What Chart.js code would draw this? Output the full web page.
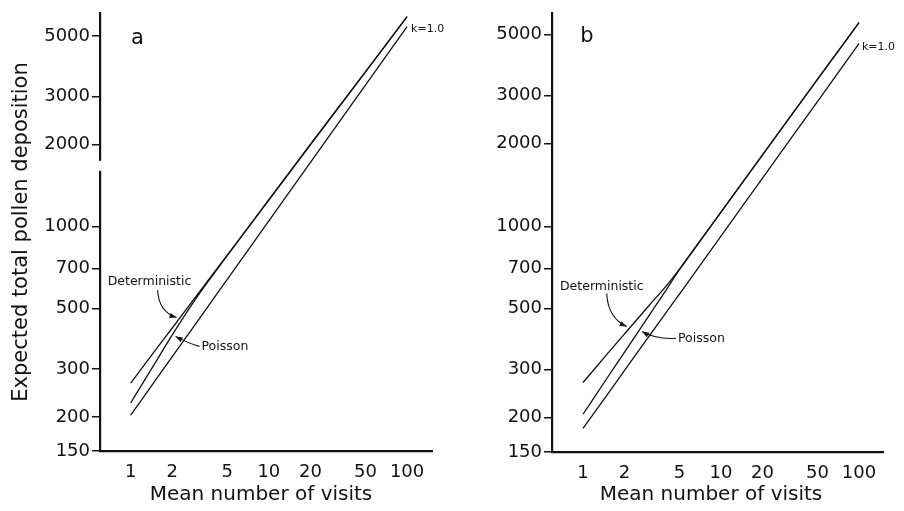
<!DOCTYPE html>
<html><head><meta charset="utf-8">
<script src="https://cdn.jsdelivr.net/npm/chart.js@4.4.1/dist/chart.umd.min.js"></script>
<style>
html,body{margin:0;padding:0;background:#fff;}
#wrapA{position:absolute;left:0;top:0;width:450px;height:511px;}
#wrapB{position:absolute;left:450px;top:0;width:454px;height:511px;}
</style></head><body>
<div id="wrapA"><canvas id="cA"></canvas></div>
<div id="wrapB"><canvas id="cB"></canvas></div>
<script>
// ---- tick labels ----
const visitTicks = [1, 2, 5, 10, 20, 50, 100];
const depositionTicks = [150, 200, 300, 500, 700, 1000, 2000, 3000, 5000];

// ---- panel a ----
const visitsA        = [1, 1.5, 2, 3, 5, 10, 20, 50, 100];
const deterministicA = [266, 350, 424, 557, 785, 1253, 1998, 3690, 5886];
const poissonA       = [225, 315, 400, 548, 781, 1250, 1998, 3690, 5886];
const k1A            = [203, 271, 333, 444, 639, 1047, 1717, 3299, 5406];

// ---- panel b ----
const visitsB        = [1, 1.5, 2, 3, 4, 5, 10, 20, 50, 100];
const deterministicB = [269, 342, 405, 513, 605, 698, 1127, 1822, 3440, 5535];
const poissonB       = [206, 280, 347, 471, 585, 694, 1127, 1822, 3440, 5535];
const k1B            = [183, 243, 298, 396, 484, 566, 921, 1499, 2854, 4640];

const INK = '#111';
const FONT = 'DejaVu Sans';

function pts(xs, ys) { return xs.map((x, i) => ({ x: x, y: ys[i] })); }

function makePanel(id, P) {
  const line = (data) => ({
    data: data, borderColor: INK, borderWidth: 1.3, pointRadius: 0,
    fill: false, cubicInterpolationMode: 'monotone'
  });
  const annot = {
    id: 'annot',
    afterDraw(chart) {
      const ctx = chart.ctx, xs = chart.scales.x, ys = chart.scales.y;
      const X = v => xs.getPixelForValue(v), Y = v => ys.getPixelForValue(v);
      ctx.save();
      ctx.fillStyle = INK; ctx.strokeStyle = INK;
      // axis break
      if (P.breakRange) {
        ctx.fillStyle = '#fff';
        const y1 = Y(P.breakRange[1]), y2 = Y(P.breakRange[0]);
        ctx.fillRect(chart.chartArea.left - 3, y1, 6, y2 - y1);
        ctx.fillStyle = INK;
      }
      // panel letter
      ctx.font = '21px ' + FONT; ctx.textAlign = 'center'; ctx.textBaseline = 'middle';
      ctx.fillText(P.letter.text, X(P.letter.x), Y(P.letter.y));
      // curve labels
      ctx.font = '12.5px ' + FONT; ctx.textAlign = 'left';
      for (const a of P.arrows) {
        ctx.fillText(a.text, X(a.tx), Y(a.ty));
        const sx = X(a.s[0]), sy = Y(a.s[1]);
        const cx = X(a.c[0]), cy = Y(a.c[1]);
        const ex = X(a.e[0]), ey = Y(a.e[1]);
        ctx.lineWidth = 1.1;
        ctx.beginPath(); ctx.moveTo(sx, sy); ctx.quadraticCurveTo(cx, cy, ex, ey); ctx.stroke();
        const ang = Math.atan2(ey - cy, ex - cx);
        const L = 7, W = 2.6;
        ctx.beginPath();
        ctx.moveTo(ex, ey);
        ctx.lineTo(ex - L * Math.cos(ang) + W * Math.sin(ang), ey - L * Math.sin(ang) - W * Math.cos(ang));
        ctx.lineTo(ex - L * Math.cos(ang) - W * Math.sin(ang), ey - L * Math.sin(ang) + W * Math.cos(ang));
        ctx.closePath(); ctx.fill();
      }
      // k = 1.0 label at the end of its curve
      const kx = P.kxs[P.kxs.length - 1], ky = P.kys[P.kys.length - 1];
      ctx.font = '11px ' + FONT; ctx.textAlign = 'left'; ctx.textBaseline = 'middle';
      ctx.fillText('k=1.0', X(kx) + P.kOff[0], Y(ky) + P.kOff[1]);
      // axis titles
      ctx.font = '20px ' + FONT; ctx.textAlign = 'center'; ctx.textBaseline = 'middle';
      ctx.fillText('Mean number of visits', P.xTitle[0], P.xTitle[1]);
      if (P.yTitle) {
        ctx.save();
        ctx.translate(P.yTitle[0], P.yTitle[1]); ctx.rotate(-Math.PI / 2);
        ctx.font = '21px ' + FONT;
        ctx.fillText('Expected total pollen deposition', 0, 0);
        ctx.restore();
      }
      ctx.restore();
    }
  };
  return new Chart(document.getElementById(id), {
    type: 'line',
    data: { datasets: [line(pts(P.xs, P.det)), line(pts(P.xs, P.poi)), line(pts(P.kxs, P.kys))] },
    options: {
      responsive: true, maintainAspectRatio: false, animation: false,
      layout: { padding: { top: P.padTop, right: P.padRight, left: 0, bottom: 0 } },
      plugins: { legend: { display: false }, tooltip: { enabled: false } },
      scales: {
        x: {
          type: 'logarithmic', min: P.xmin, max: P.xmax,
          afterBuildTicks: s => { s.ticks = visitTicks.map(v => ({ value: v })); },
          afterFit: s => { s.height = P.xAxisH; },
          ticks: { autoSkip: false, maxRotation: 0, padding: 11, color: INK,
                   font: { family: FONT, size: 18 }, callback: v => String(v) },
          grid: { display: false, drawTicks: false },
          border: { display: true, color: INK, width: 2.2 }
        },
        y: {
          type: 'logarithmic', min: P.ymin, max: P.ymax,
          afterBuildTicks: s => { s.ticks = depositionTicks.map(v => ({ value: v })); },
          afterFit: s => { s.width = P.yAxisW; },
          ticks: { autoSkip: false, padding: 2, color: INK,
                   font: { family: FONT, size: 18 }, callback: v => String(v) },
          grid: { display: true, drawOnChartArea: false, drawTicks: true, tickLength: 8,
                  color: INK, lineWidth: 1.5 },
          border: { display: true, color: INK, width: 2.2 }
        }
      }
    },
    plugins: [annot]
  });
}

makePanel('cA', {
  xs: visitsA, det: deterministicA, poi: poissonA, kxs: visitsA, kys: k1A,
  xmin: 0.607, xmax: 151.5, ymin: 150, ymax: 6078,
  padTop: 7, padRight: 18, yAxisW: 100, xAxisH: 60,
  breakRange: [1600, 1740],
  letter: { text: 'a', x: 1.12, y: 4905 },
  arrows: [
    { text: 'Deterministic', tx: 0.682, ty: 625, s: [1.567, 584], c: [1.593, 486], e: [2.148, 463] },
    { text: 'Poisson', tx: 3.255, ty: 363, s: [3.149, 363], c: [2.623, 372], e: [2.113, 395] }
  ],
  kOff: [4, 2],
  xTitle: [261, 495],
  yTitle: [22, 232]
});

makePanel('cB', {
  xs: visitsB, det: deterministicB, poi: poissonB, kxs: visitsB, kys: k1B,
  xmin: 0.596, xmax: 149.3, ymin: 150, ymax: 6016,
  padTop: 11, padRight: 21, yAxisW: 102, xAxisH: 59,
  breakRange: null,
  letter: { text: 'b', x: 1.069, y: 4924 },
  arrows: [
    { text: 'Deterministic', tx: 0.681, ty: 604, s: [1.485, 568], c: [1.518, 461], e: [2.073, 431] },
    { text: 'Poisson', tx: 4.88, ty: 390, s: [4.72, 390], c: [3.381, 386], e: [2.677, 413] }
  ],
  kOff: [3, 3],
  xTitle: [261, 495],
  yTitle: null
});
</script>
</body></html>
